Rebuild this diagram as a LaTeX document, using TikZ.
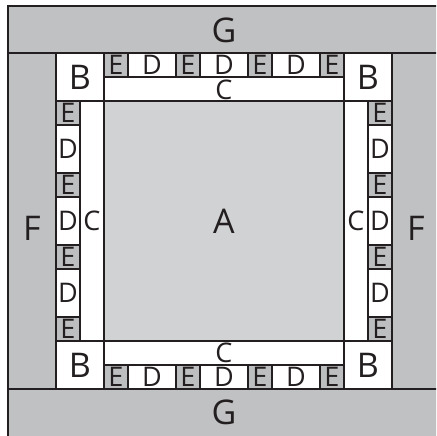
\documentclass[tikz,border=0pt]{standalone}
\usepackage{fontspec}
\setmainfont{Open Sans}
\usepackage{tikz}
\usetikzlibrary{positioning}
\definecolor{gCol}{RGB}{192,193,195}
\definecolor{aCol}{RGB}{209,210,212}
\definecolor{eCol}{RGB}{189,190,192}
\definecolor{lineCol}{RGB}{35,31,32}
\tikzset{
  cell/.style={draw=lineCol,line width=1.1pt,inner sep=0pt,outer sep=0pt,
               text=lineCol,font=\fontsize{27}{27}\selectfont},
  ecell/.style={cell,fill=eCol,minimum width=24pt,minimum height=24pt},
  dhor/.style={cell,fill=white,minimum width=48pt,minimum height=24pt},
  dver/.style={cell,fill=white,minimum width=24pt,minimum height=48pt},
  bcell/.style={cell,fill=white,minimum width=48pt,minimum height=48pt,
                font=\fontsize{34}{34}\selectfont},
  chor/.style={cell,fill=white,minimum width=240pt,minimum height=24pt},
  cver/.style={cell,fill=white,minimum width=24pt,minimum height=240pt},
  biglab/.style={inner sep=0pt,text=lineCol,font=\fontsize{34}{34}\selectfont},
}
\begin{document}
\begin{tikzpicture}[x=1pt,y=-1pt]
    \useasboundingbox (0,0) rectangle (436,436);
    \clip (0,0) rectangle (436,436);
    % outer grey frame (G bands, F sides)
    \fill[gCol] (8,6) rectangle (440,440);
    \draw[lineCol,line width=1.1pt] (8,440) -- (8,6) -- (440,6);
    \draw[lineCol,line width=1.1pt] (8,53) -- (440,53);
    \draw[lineCol,line width=1.1pt] (8,389) -- (440,389);
    \node[biglab] (gtop) at (224,30) {G};
    \node[biglab] (gbot) at (224,412) {G};
    \node[biglab] (fleft) at (32,228) {F};
    \node[biglab] (fright) at (416,228) {F};
    % centre square
    \node[cell,fill=aCol,minimum width=240pt,minimum height=240pt,
          font=\fontsize{34}{34}\selectfont] (a) at (224,221) {A};
    % corners
    \node[bcell] (btl) at (80,77) {B};
    \node[bcell] (btr) at (368,77) {B};
    \node[bcell] (bbl) at (80,365) {B};
    \node[bcell] (bbr) at (368,365) {B};
    % C strips
    \node[chor,text height=22pt] (ctop) at (224,89) {C};
    \node[chor] (cbot) at (224,353) {C};
    \node[cver] (cleft) at (92,221) {C};
    \node[cver] (cright) at (356,221) {C};
    % E/D strips, top and bottom
    \foreach \i in {0,...,3} {
      \node[ecell] (et\i) at (116+72*\i,65) {E};
      \node[ecell] (eb\i) at (116+72*\i,377) {E};
    }
    \foreach \i in {0,...,2} {
      \node[dhor] (dt\i) at (152+72*\i,65) {D};
      \node[dhor] (db\i) at (152+72*\i,377) {D};
    }
    % E/D strips, left and right
    \foreach \i in {0,...,3} {
      \node[ecell] (el\i) at (68,113+72*\i) {E};
      \node[ecell] (er\i) at (380,113+72*\i) {E};
    }
    \foreach \i in {0,...,2} {
      \node[dver] (dl\i) at (68,149+72*\i) {D};
      \node[dver] (dr\i) at (380,149+72*\i) {D};
    }
  \end{tikzpicture}
\end{document}
